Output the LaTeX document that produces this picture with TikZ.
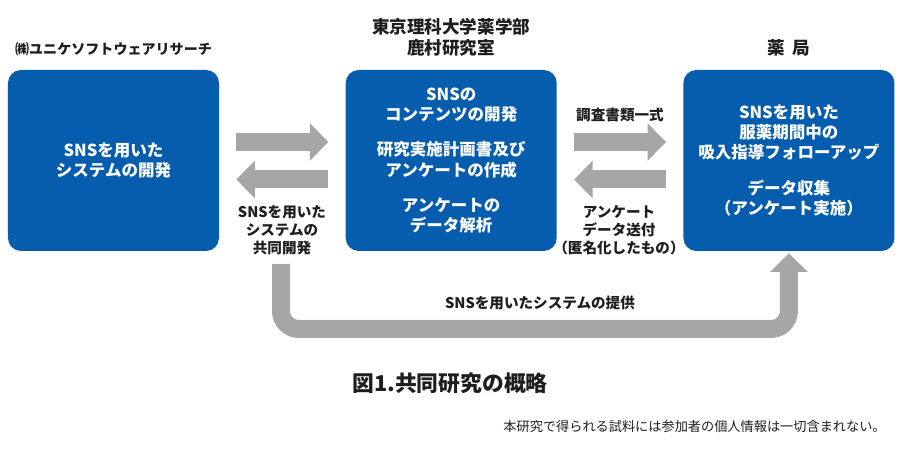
\documentclass[tikz,border=0pt]{standalone}
\usepackage{fontspec}
\setmainfont{Noto Sans CJK JP}
\usepackage{xcolor}
\usepackage{tikz}
\usetikzlibrary{arrows.meta,positioning,calc}
\definecolor{boxblue}{HTML}{065DAD}
\definecolor{arrowgray}{HTML}{A6A6A6}
\definecolor{ink}{HTML}{1E1E1E}
\tikzset{
    every picture/.style={line join=round},
    orgbox/.style={fill=boxblue,draw=none,rounded corners=2.6mm,
      minimum width=4.22cm,minimum height=3.62cm,inner sep=2pt,
      text=white,align=center,font=\fontsize{9.4}{11.6}\selectfont\bfseries},
    orglabel/.style={inner sep=0pt,text=ink,align=center,
      font=\fontsize{10.0}{11.9}\selectfont\bfseries},
    flowlabel/.style={inner sep=0pt,text=ink,align=center,
      font=\fontsize{8.3}{10.2}\selectfont\bfseries},
    grayarrow/.style={draw=arrowgray,line width=0.36cm,line cap=butt,
      -{Triangle[length=0.37cm,width=0.73cm]}}
}

\begin{document}
\begin{tikzpicture}[x=0.2mm,y=-0.2mm]
    \useasboundingbox (0,0) rectangle (900,463);
    % the three partners
    \node[orgbox] (lbox) at (113.5,160.5) {SNSを用いた\\システムの開発};
    \node[orgbox,right=2.52cm of lbox] (mbox) {SNSの\\コンテンツの開発\\[8.5pt]研究実施計画書及び\\アンケートの作成\\[8.5pt]アンケートの\\データ解析};
    \node[orgbox,right=2.52cm of mbox] (rbox) {SNSを用いた\\服薬期間中の\\吸入指導フォローアップ\\[8.5pt]データ収集\\（アンケート実施）};
    \node[orglabel,above=2.6mm of lbox,font=\fontsize{8.0}{11.9}\selectfont\bfseries] (lname) {㈱ユニケソフトウェアリサーチ};
    \node[orglabel,above=2.6mm of mbox] (mname) {東京理科大学薬学部\\鹿村研究室};
    \node[orglabel,above=2.6mm of rbox] (rname) {薬\hspace{0.45em}局};
    % exchanges
    \draw[grayarrow,shorten <=0.34cm,shorten >=0.34cm] ([yshift=0.37cm]lbox.east) -- ([yshift=0.37cm]mbox.west);
    \draw[grayarrow,shorten <=0.34cm,shorten >=0.34cm] ([yshift=-0.38cm]mbox.west) -- ([yshift=-0.38cm]lbox.east);
    \draw[grayarrow,shorten <=0.34cm,shorten >=0.34cm] ([yshift=0.37cm]mbox.east) -- ([yshift=0.37cm]rbox.west);
    \draw[grayarrow,shorten <=0.34cm,shorten >=0.34cm] ([yshift=-0.38cm]rbox.west) -- ([yshift=-0.38cm]mbox.east);
    \node[flowlabel] (jointdev) at (282,230) {SNSを用いた\\システムの\\共同開発};
    \node[flowlabel] (docs) at (620,115) {調査書類一式};
    \node[flowlabel] (senddata) at (619,230) {アンケート\\データ送付\\（匿名化したもの）};
    % system supply
    \coordinate (ustart) at (281,264);
    \draw[grayarrow,rounded corners=0.36cm,shorten >=0.04cm] (ustart) -- (281,329) -- (rbox.south |- 0,329) -- (rbox.south);
    \node[flowlabel] (supply) at (540,303) {SNSを用いたシステムの提供};
    % caption
    \node[inner sep=0pt,text=ink,font=\fontsize{12.4}{14}\selectfont\bfseries] (title) at (450,383) {図1.共同研究の概略};
    \node[inner sep=0pt,text=ink,anchor=east,font=\fontsize{7.5}{9}\selectfont] (note) at (886,427) {本研究で得られる試料には参加者の個人情報は一切含まれない。};
\end{tikzpicture}
\end{document}
